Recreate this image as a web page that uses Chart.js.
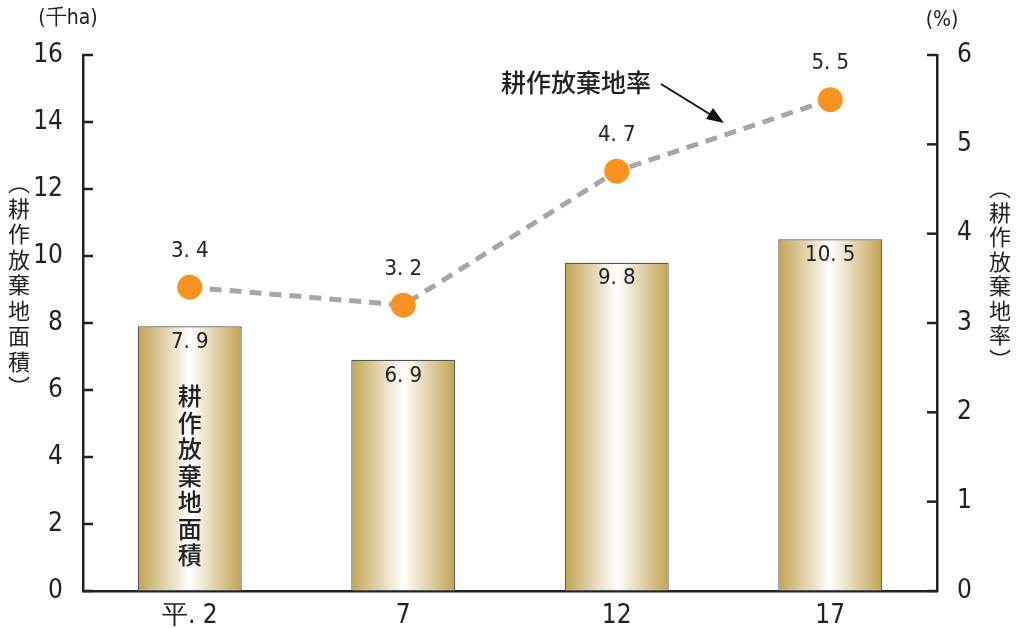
<!DOCTYPE html>
<html>
<head>
<meta charset="utf-8">
<script src="https://cdn.jsdelivr.net/npm/chart.js@4"></script>
<style>
  html, body { margin: 0; padding: 0; background: #fff; }
  #wrap { width: 1018px; height: 628px; }
</style>
</head>
<body>
<div id="wrap"><canvas id="myChart1" width="1018" height="628"></canvas></div>
<script>
var years = ['平. 2', '7', '12', '17'];
var areaValues = [7.9, 6.9, 9.8, 10.5];     // 千ha
var rateValues = [3.4, 3.2, 4.7, 5.5];      // %
var leftTicks = [0, 2, 4, 6, 8, 10, 12, 14, 16];
var rightTicks = [0, 1, 2, 3, 4, 5, 6];

var numFont = "'DejaVu Sans Condensed', 'DejaVu Sans', sans-serif";
var jpFont = "'Noto Sans CJK JP', sans-serif";
var barFrac = 0.487;

function fmt(v) {
    return v.toFixed(1).replace('.', '. ');
}

// draws the inward ticks, labels and texts
var extras = {
    id: 'extras',
    afterDatasetsDraw: function(chart) {
        var c = chart.ctx;
        var xs = chart.scales.x, yl = chart.scales.y, yr = chart.scales.y2;
        var area = chart.chartArea;
        c.save();

        // inward tick marks
        c.strokeStyle = '#222';
        c.lineWidth = 2.5;
        leftTicks.forEach(function(t) {
            var y = yl.getPixelForValue(t);
            c.beginPath(); c.moveTo(area.left, y); c.lineTo(area.left + 10, y); c.stroke();
        });
        rightTicks.forEach(function(t) {
            var y = yr.getPixelForValue(t);
            c.beginPath(); c.moveTo(area.right, y); c.lineTo(area.right - 10, y); c.stroke();
        });

        // bar value labels
        c.fillStyle = '#222';
        c.font = 'condensed 22px ' + numFont;
        c.textAlign = 'center';
        c.textBaseline = 'middle';
        areaValues.forEach(function(v, i) {
            var x = xs.getPixelForValue(i);
            var y = yl.getPixelForValue(v);
            c.fillText(fmt(v), x, y + 16);
        });
        // point labels
        rateValues.forEach(function(v, i) {
            var x = xs.getPixelForValue(i);
            var y = yr.getPixelForValue(v);
            c.fillText(fmt(v), x, y - 36);
        });

        // vertical text inside first bar
        c.font = '500 24px ' + jpFont;
        var s = '耕作放棄地面積';
        var bx = xs.getPixelForValue(0);
        for (var k = 0; k < s.length; k++) {
            c.fillText(s[k], bx, 396 + k * 26.5);
        }

        // axis titles
        c.font = '22px ' + jpFont;
        var lt = '︵耕作放棄地面積︶';
        for (var k = 0; k < lt.length; k++) {
            c.fillText(lt[k], 19, 183 + k * 25.5);
        }
        var rt = '︵耕作放棄地率︶';
        for (var k = 0; k < rt.length; k++) {
            c.fillText(rt[k], 1000, 188 + k * 24.5);
        }

        // unit labels
        c.font = 'condensed 21px ' + numFont;
        c.fillText('(千ha)', 68, 19);
        c.fillText('(%)', 942, 21);

        // annotation with arrow
        c.font = '500 25px ' + jpFont;
        c.fillText('耕作放棄地率', 576, 82);
        c.strokeStyle = '#111';
        c.fillStyle = '#111';
        c.lineWidth = 2;
        c.beginPath(); c.moveTo(661, 84); c.lineTo(716, 118); c.stroke();
        c.beginPath();
        c.moveTo(724, 123); c.lineTo(706, 119); c.lineTo(713, 108); c.closePath(); c.fill();

        c.restore();
    }
};

var tickFont = { family: numFont, size: 26, style: 'condensed' };

var ctx = document.getElementById('myChart1').getContext('2d');
var chart = new Chart(ctx, {
    type: 'bar',
    data: {
        labels: years,
        datasets: [{
            type: 'line',
            data: rateValues,
            yAxisID: 'y2',
            order: 0,
            borderColor: '#a6a6a6',
            borderWidth: 5,
            borderDash: [12, 8],
            pointRadius: 12.5,
            pointBackgroundColor: '#f7931e',
            pointBorderWidth: 0,
            fill: false,
            tension: 0
        }, {
            type: 'bar',
            data: areaValues,
            yAxisID: 'y',
            order: 1,
            borderColor: '#555',
            borderWidth: 1.2,
            borderSkipped: false,
            barPercentage: barFrac,
            categoryPercentage: 1,
            backgroundColor: function(context) {
                var ch = context.chart;
                var xs = ch.scales.x;
                if (!xs || xs.width === undefined) return '#d8c48f';
                var cx = xs.getPixelForValue(context.dataIndex);
                var w = xs.width / years.length * barFrac;
                var g = ch.ctx.createLinearGradient(cx - w / 2, 0, cx + w / 2, 0);
                g.addColorStop(0, '#c2a352');
                g.addColorStop(0.5, '#ffffff');
                g.addColorStop(1, '#c2a352');
                return g;
            }
        }]
    },
    options: {
        responsive: false,
        animation: false,
        layout: { padding: { top: 55, left: 0, right: 0, bottom: 0 } },
        plugins: { legend: { display: false }, tooltip: { enabled: false } },
        scales: {
            x: {
                grid: { display: false },
                border: { display: true, color: '#222', width: 2.5 },
                ticks: { color: '#222', font: tickFont, padding: 2 },
                afterFit: function(s) { s.height = 37; }
            },
            y: {
                position: 'left',
                min: 0, max: 16,
                afterBuildTicks: function(s) { s.ticks = leftTicks.map(function(v) { return { value: v }; }); },
                grid: { display: false },
                border: { display: true, color: '#222', width: 2.5 },
                ticks: { color: '#222', font: tickFont, padding: 12 },
                afterFit: function(s) { s.width = 83; }
            },
            y2: {
                position: 'right',
                min: 0, max: 6,
                afterBuildTicks: function(s) { s.ticks = rightTicks.map(function(v) { return { value: v }; }); },
                grid: { display: false },
                border: { display: true, color: '#222', width: 2.5 },
                ticks: { color: '#222', font: tickFont, padding: 12 },
                afterFit: function(s) { s.width = 81; }
            }
        }
    },
    plugins: [extras]
});
</script>
</body>
</html>
